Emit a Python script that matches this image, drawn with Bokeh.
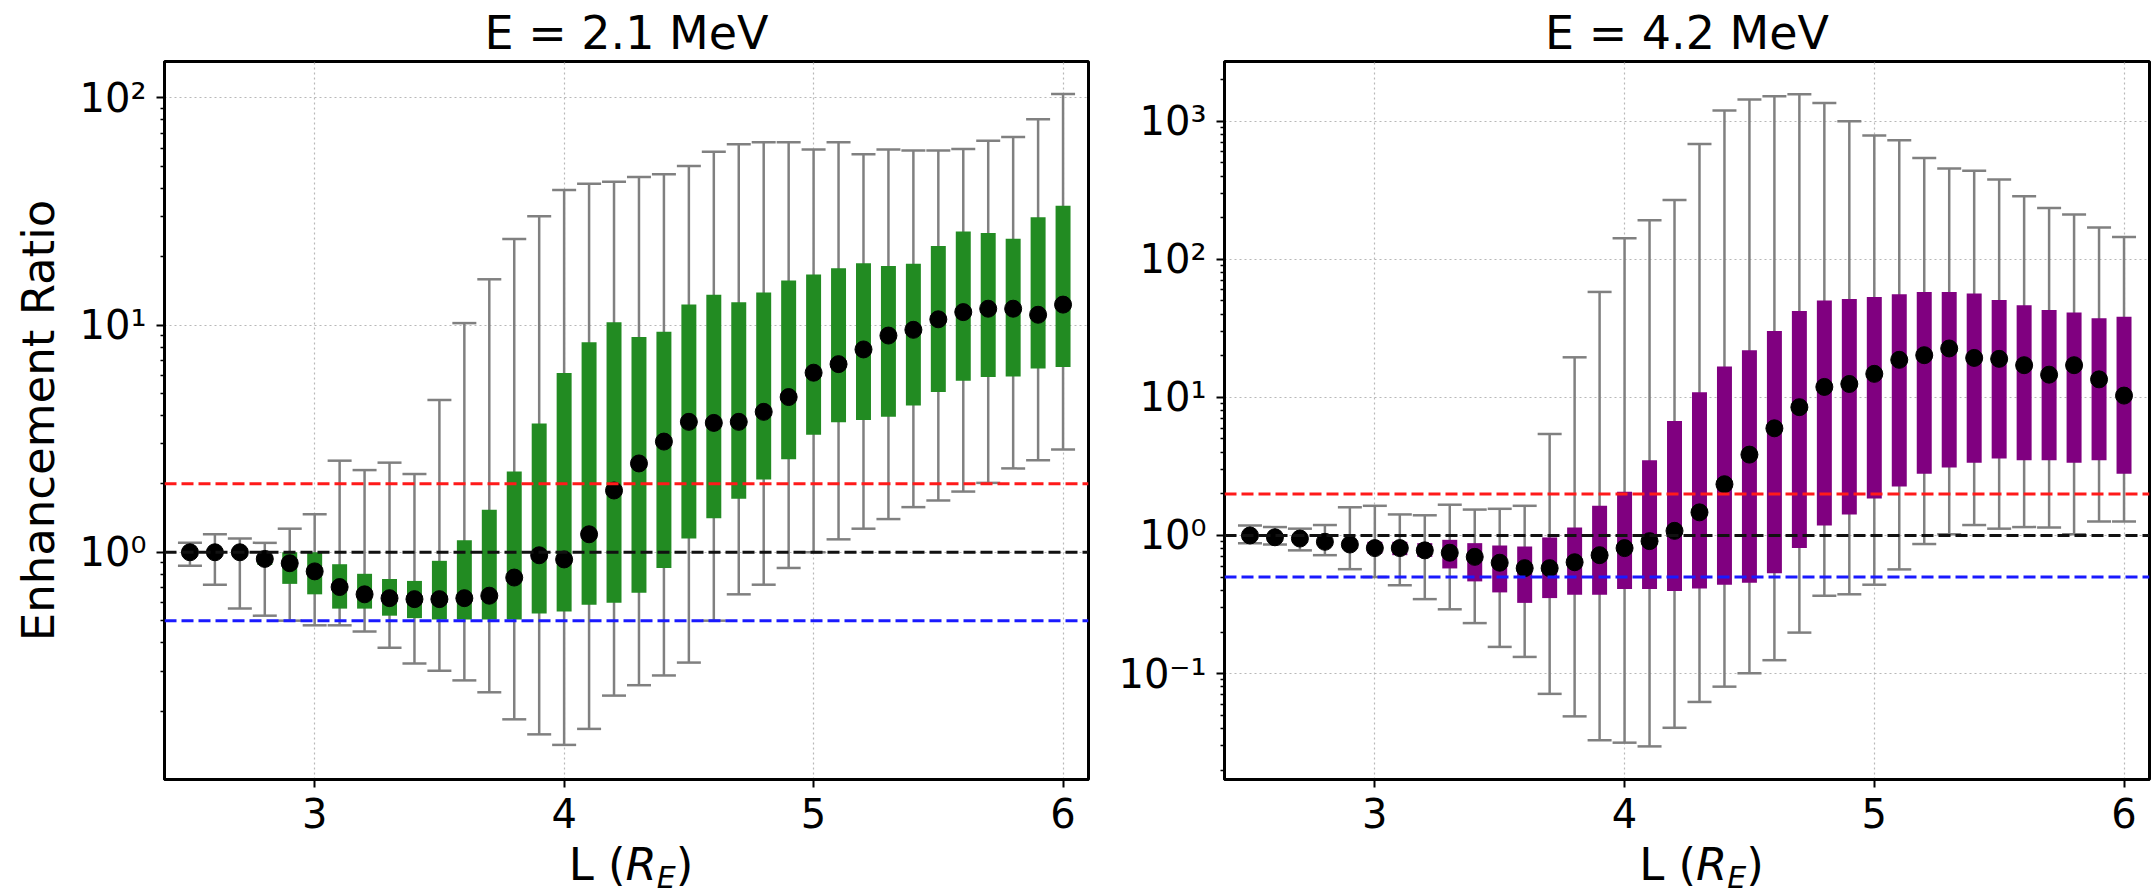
from bokeh.plotting import figure
from bokeh.models import Span, FixedTicker, ColumnDataSource, Range1d, CustomJSTickFormatter, Div
from bokeh.layouts import row, column
from bokeh.embed import file_html
from bokeh.resources import INLINE

# ---------------- data ----------------
L = [2.5, 2.6, 2.7, 2.8, 2.9, 3.0, 3.1, 3.2, 3.3, 3.4, 3.5, 3.6, 3.7, 3.8, 3.9, 4.0, 4.1, 4.2,
     4.3, 4.4, 4.5, 4.6, 4.7, 4.8, 4.9, 5.0, 5.1, 5.2, 5.3, 5.4, 5.5, 5.6, 5.7, 5.8, 5.9, 6.0]

# E = 2.1 MeV
med_21 = [1.0, 1.0, 1.0, 0.935, 0.895, 0.824, 0.703, 0.653, 0.628, 0.622, 0.622, 0.628, 0.644,
          0.774, 0.97, 0.93, 1.2, 1.87, 2.46, 3.07, 3.75, 3.71, 3.75, 4.15, 4.82, 6.17, 6.73,
          7.81, 8.99, 9.53, 10.6, 11.4, 11.8, 11.8, 11.1, 12.3]
q75_21 = [1.03, 1.03, 1.03, 0.97, 1.0, 1.0, 0.886, 0.804, 0.763, 0.748, 0.917, 1.13, 1.54, 2.27,
          3.69, 6.15, 8.4, 10.3, 8.86, 9.35, 12.3, 13.6, 12.6, 13.9, 15.7, 16.7, 17.8, 18.7,
          18.2, 18.6, 22.3, 25.8, 25.4, 24.0, 29.8, 33.5]
q25_21 = [0.97, 0.97, 0.96, 0.88, 0.726, 0.653, 0.565, 0.565, 0.526, 0.513, 0.506, 0.506, 0.506,
          0.506, 0.538, 0.549, 0.587, 0.60, 0.663, 0.853, 1.15, 1.41, 1.72, 2.09, 2.57, 3.29,
          3.73, 3.82, 3.95, 4.42, 5.08, 5.68, 5.9, 5.93, 6.44, 6.53]
max_21 = [1.10, 1.20, 1.15, 1.10, 1.27, 1.47, 2.53, 2.30, 2.48, 2.21, 4.68, 10.2, 15.9, 23.9,
          30.1, 39.3, 41.9, 42.7, 44.8, 46.1, 50.1, 57.9, 62.5, 63.8, 63.8, 59.3, 63.8, 56.5,
          59.3, 58.7, 58.7, 59.5, 64.7, 67.3, 80.4, 104.0]
min_21 = [0.873, 0.72, 0.565, 0.526, 0.50, 0.477, 0.477, 0.448, 0.38, 0.324, 0.301, 0.273, 0.242,
          0.184, 0.158, 0.142, 0.167, 0.234, 0.26, 0.287, 0.327, 0.50, 0.653, 0.72, 0.853, 1.0,
          1.14, 1.27, 1.40, 1.58, 1.69, 1.85, 2.02, 2.34, 2.54, 2.83]

# E = 4.2 MeV
med_42 = [1.0, 0.97, 0.95, 0.90, 0.86, 0.81, 0.81, 0.78, 0.75, 0.70, 0.635, 0.58, 0.58, 0.64,
          0.72, 0.81, 0.91, 1.08, 1.47, 2.35, 3.85, 5.97, 8.49, 11.9, 12.5, 14.8, 18.7, 20.2,
          22.6, 19.3, 19.0, 17.1, 14.6, 17.1, 13.5, 10.3]
q75_42 = [1.04, 1.02, 1.0, 0.95, 0.92, 0.90, 0.90, 0.88, 0.93, 0.88, 0.846, 0.832, 0.968, 1.14,
          1.64, 2.07, 3.5, 6.73, 10.9, 16.7, 21.9, 30.2, 42.2, 50.3, 51.5, 53.2, 55.8, 58.0,
          58.0, 56.6, 50.7, 46.4, 42.9, 41.2, 37.4, 38.3]
q25_42 = [0.96, 0.93, 0.90, 0.85, 0.80, 0.74, 0.72, 0.70, 0.577, 0.465, 0.387, 0.325, 0.352,
          0.372, 0.372, 0.41, 0.41, 0.396, 0.413, 0.44, 0.454, 0.532, 0.813, 1.18, 1.42, 1.85,
          2.26, 2.8, 3.1, 3.36, 3.61, 3.5, 3.5, 3.36, 3.5, 2.8]
max_42 = [1.18, 1.15, 1.12, 1.19, 1.60, 1.64, 1.42, 1.40, 1.67, 1.54, 1.56, 1.64, 5.43, 19.5,
          58.0, 142.0, 192.0, 269.0, 683.0, 1194.0, 1435.0, 1518.0, 1567.0, 1356.0, 1000.0,
          788.0, 728.0, 542.0, 455.0, 437.0, 378.0, 286.0, 235.0, 211.0, 170.0, 145.0]
min_42 = [0.88, 0.86, 0.78, 0.72, 0.57, 0.50, 0.436, 0.346, 0.292, 0.232, 0.156, 0.132, 0.0713,
          0.049, 0.0329, 0.0316, 0.0297, 0.0405, 0.0623, 0.0804, 0.1005, 0.125, 0.198, 0.366,
          0.375, 0.44, 0.568, 0.867, 1.02, 1.19, 1.12, 1.15, 1.14, 1.02, 1.26, 1.26]

titles = ["E = 2.1 MeV", "E = 4.2 MeV"]
box_colors = ["#228b22", "#800080"]
ref_levels = [2.0, 1.0, 0.5]
ref_colors = ["#ff1a1a", "#111111", "#1a1aff"]
x_ticks = [3, 4, 5, 6]
y_ticks_21 = [1, 10, 100]
y_ticks_42 = [0.1, 1, 10, 100, 1000]
y_lims_21 = (0.1, 144.5)
y_lims_42 = (0.0171, 2704.0)
x_lims = (2.398, 6.102)

FONT = "DejaVu Sans"
FIG_H = 840
DIV_H = 893 - FIG_H

sup_fmt = CustomJSTickFormatter(code="""
const sup = {'-':'\u207b','0':'\u2070','1':'\u00b9','2':'\u00b2','3':'\u00b3','4':'\u2074','5':'\u2075'};
const e = Math.round(Math.log10(tick));
return '10' + String(e).split('').map(c => sup[c]).join('');
""")


def minor_ticks(lo, hi):
    out = []
    dec = 1e-3
    while dec < hi * 10:
        for m in range(2, 10):
            v = m * dec
            if lo <= v <= hi:
                out.append(round(v, 6))
        dec *= 10
    return out


def make_panel(title, med, q25, q75, mn, mx, color, yticks, ylims, width, left, right, ylabel):
    src = ColumnDataSource(dict(L=L, med=med, q25=q25, q75=q75, mn=mn, mx=mx))
    p = figure(width=width, height=FIG_H, y_axis_type="log",
               x_range=Range1d(*x_lims), y_range=Range1d(*ylims),
               output_backend="svg", toolbar_location=None,
               min_border_left=left, min_border_right=right,
               min_border_top=61, min_border_bottom=FIG_H - 779)
    p.title.text = title
    p.title.align = "center"
    p.title.text_font = FONT
    p.title.text_font_size = "46px"
    p.title.text_font_style = "normal"
    p.title.text_color = "black"
    p.title.standoff = 4

    p.outline_line_color = "black"
    p.outline_line_width = 3
    p.outline_line_alpha = 1.0

    for g in (p.xgrid, p.ygrid):
        g.grid_line_color = "#b8b8b8"
        g.grid_line_dash = "2 3"
        g.grid_line_width = 1.2

    p.xaxis.ticker = FixedTicker(ticks=x_ticks)
    p.yaxis.ticker = FixedTicker(ticks=yticks, minor_ticks=minor_ticks(ylims[0], ylims[1]))
    p.yaxis.formatter = sup_fmt
    for ax in (p.xaxis[0], p.yaxis[0]):
        ax.axis_line_color = "black"
        ax.axis_line_width = 3
        ax.major_tick_line_color = "black"
        ax.major_tick_line_width = 2
        ax.major_tick_out = 8
        ax.major_tick_in = 0
        ax.minor_tick_line_color = "black"
        ax.minor_tick_line_width = 1.5
        ax.minor_tick_out = 4
        ax.minor_tick_in = 0
        ax.major_label_text_font = FONT
        ax.major_label_text_font_size = "40px"
        ax.major_label_text_color = "black"
        ax.major_label_standoff = 10
    p.xaxis.minor_tick_line_color = None
    if ylabel:
        p.yaxis.axis_label = ylabel
        p.yaxis.axis_label_text_font = FONT
        p.yaxis.axis_label_text_font_size = "45px"
        p.yaxis.axis_label_text_font_style = "normal"
        p.yaxis.axis_label_text_color = "black"
        p.yaxis.axis_label_standoff = 12

    # whiskers + caps
    p.segment(x0="L", y0="mn", x1="L", y1="mx", source=src, line_color="#808080", line_width=2.5)
    p.scatter(x="L", y="mx", source=src, marker="dash", size=24, line_color="#808080", line_width=2.5)
    p.scatter(x="L", y="mn", source=src, marker="dash", size=24, line_color="#808080", line_width=2.5)
    # boxes
    p.vbar(x="L", width=0.06, top="q75", bottom="q25", source=src,
           fill_color=color, line_color=None)
    # reference levels
    for lev, c in zip(ref_levels, ref_colors):
        p.add_layout(Span(location=lev, dimension="width", line_color=c,
                          line_width=3, line_dash="12 5"))
    # medians
    p.scatter(x="L", y="med", source=src, size=17, fill_color="black", line_color="black")
    return p


def xlabel_div(width, left, right):
    fw = width - left - right
    html = (f'<div style="margin-left:{left}px;width:{fw}px;margin-top:-3px;text-align:center;'
            f'font-family:\'{FONT}\';font-size:45px;line-height:45px;color:black;white-space:nowrap;">'
            'L (<i>R</i><span style="position:relative;top:8px;font-size:30px;font-style:italic;">E</span>)'
            '</div>')
    return Div(text=html, width=width, height=DIV_H, styles={"overflow": "visible"})


W1, LB1, RB1 = 1100, 164, 12
W2, LB2, RB2 = 1051, 124, 2

p1 = make_panel(titles[0], med_21, q25_21, q75_21, min_21, max_21, box_colors[0],
                y_ticks_21, y_lims_21, W1, LB1, RB1, "Enhancement Ratio")
p2 = make_panel(titles[1], med_42, q25_42, q75_42, min_42, max_42, box_colors[1],
                y_ticks_42, y_lims_42, W2, LB2, RB2, None)

d1 = xlabel_div(W1, LB1, RB1)
d2 = xlabel_div(W2, LB2, RB2)

layout = column(row(p1, p2), row(d1, d2))
open("out.html", "w").write(file_html(layout, INLINE))
